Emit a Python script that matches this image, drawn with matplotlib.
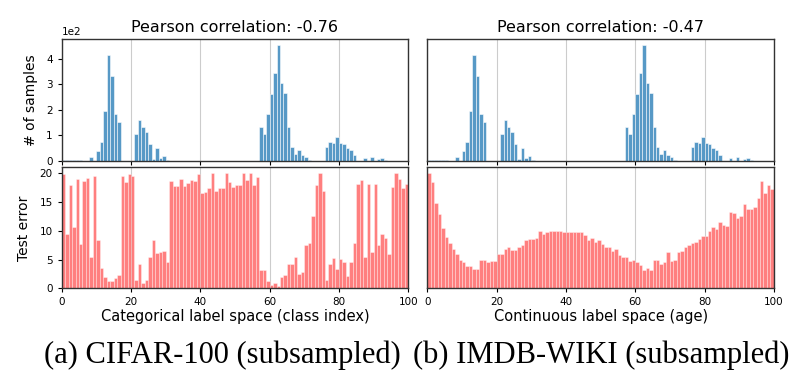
import matplotlib
matplotlib.use("Agg")
import matplotlib.pyplot as plt
import numpy as np

# label index 0..99, one bar per label
labels = np.arange(100)

# samples per label (same subsampled distribution in both columns)
sample_counts = [2, 2, 2, 3, 2, 4, 0, 0, 14, 0,
                 40, 75, 196, 414, 333, 184, 153, 0, 0, 0,
                 0, 107, 161, 135, 112, 68, 9, 51, 12, 20,
                 5, 0, 0, 0, 0, 0, 0, 0, 0, 0,
                 0, 0, 0, 0, 0, 0, 0, 0, 0, 0,
                 0, 0, 0, 0, 0, 0, 0, 135, 105, 184,
                 261, 344, 455, 307, 265, 132, 54, 27, 43, 25,
                 16, 4, 0, 0, 0, 0, 56, 75, 69, 95,
                 72, 68, 51, 43, 24, 0, 0, 10, 0, 16,
                 0, 8, 12, 4, 0, 0, 0, 0, 0, 0]

cifar_error = [19.9, 9.4, 17.9, 10.6, 19.0, 7.7, 18.6, 19.2, 5.4, 19.6,
               8.4, 3.6, 2.0, 1.2, 1.3, 1.8, 2.3, 19.5, 18.4, 19.8,
               19.5, 1.5, 4.3, 0.9, 1.4, 5.5, 8.4, 6.1, 6.3, 6.5,
               4.6, 18.7, 17.7, 17.7, 19.0, 17.7, 18.3, 18.9, 18.7, 19.9,
               16.5, 16.8, 17.5, 20.0, 16.9, 17.4, 17.4, 20.0, 18.5, 17.6,
               17.9, 18.0, 20.0, 18.8, 20.0, 18.0, 19.4, 3.1, 3.2, 1.3,
               0.6, 1.0, 0.4, 2.0, 2.3, 4.2, 4.2, 5.5, 2.5, 2.9,
               7.5, 7.8, 12.5, 17.9, 20.0, 16.9, 1.4, 4.2, 5.2, 3.4,
               5.1, 4.5, 2.1, 4.5, 7.8, 18.2, 18.8, 5.4, 18.2, 6.3,
               18.2, 7.6, 9.5, 8.8, 5.9, 17.6, 20.0, 19.0, 17.5, 18.2]

imdb_error = [20.0, 18.4, 14.8, 12.9, 10.4, 9.0, 7.9, 6.9, 6.0, 5.0,
              4.5, 3.9, 3.9, 3.3, 3.3, 5.0, 4.9, 4.6, 4.8, 4.8,
              6.0, 6.0, 6.8, 7.1, 6.6, 6.6, 7.2, 7.6, 8.4, 8.6,
              8.6, 8.7, 10.0, 9.4, 9.8, 9.9, 9.9, 10.0, 9.9, 9.8,
              9.8, 9.8, 9.8, 9.8, 9.8, 9.3, 8.4, 8.8, 8.1, 8.4,
              7.7, 7.1, 7.1, 6.4, 6.8, 5.8, 5.4, 5.5, 4.8, 4.9,
              4.6, 4.0, 3.2, 3.5, 3.1, 4.9, 4.9, 4.3, 4.5, 6.3,
              4.8, 5.0, 6.3, 6.5, 7.2, 7.6, 7.8, 8.0, 8.6, 9.1,
              9.1, 9.9, 10.7, 10.3, 11.6, 11.0, 10.9, 13.2, 13.1, 12.2,
              12.5, 14.7, 13.7, 13.7, 14.1, 15.7, 18.6, 16.6, 17.9, 17.2]

titles = ["Pearson correlation: -0.76", "Pearson correlation: -0.47"]
xlabels = ["Categorical label space (class index)", "Continuous label space (age)"]
captions = ["(a) CIFAR-100 (subsampled)", "(b) IMDB-WIKI (subsampled)"]
errors = [cifar_error, imdb_error]

fig = plt.figure(figsize=(8.04, 3.80), dpi=100)

lefts = [0.0767, 0.5315]
w = 0.431
cap_x = [0.277, 0.748]

for col in range(2):
    ax_top = fig.add_axes([lefts[col], 0.5763, w, 0.321])
    ax_bot = fig.add_axes([lefts[col], 0.2413, w, 0.318])

    ax_top.bar(labels, sample_counts, width=1, align='edge',
               color='tab:blue', alpha=0.75, edgecolor='white', linewidth=0.5)
    ax_bot.bar(labels, errors[col], width=1, align='edge',
               color='red', alpha=0.5, edgecolor='white', linewidth=0.5)

    for ax in (ax_top, ax_bot):
        ax.set_xlim(0, 100)
        ax.set_xticks([0, 20, 40, 60, 80, 100])
        ax.grid(axis='x', color='#cccccc', linewidth=0.8)
        ax.set_axisbelow(True)
        ax.tick_params(labelsize=7.5, length=3, width=0.8)
        for s in ax.spines.values():
            s.set_linewidth(1.0)
            s.set_color('#333333')

    ax_top.set_ylim(0, 477.75)
    ax_bot.set_ylim(0, 21)
    ax_top.set_xticklabels([])
    ax_top.set_title(titles[col], fontsize=11.5, pad=5)
    ax_bot.set_xlabel(xlabels[col], fontsize=10.5, labelpad=1)
    ax_bot.set_yticks([0, 5, 10, 15, 20])

    if col == 0:
        ax_top.set_yticks([0, 100, 200, 300, 400])
        ax_top.ticklabel_format(axis='y', style='sci', scilimits=(2, 2))
        ax_top.yaxis.get_offset_text().set_fontsize(7.5)
        ax_top.set_ylabel("# of samples", fontsize=10, labelpad=6)
        ax_bot.set_ylabel("Test error", fontsize=10, labelpad=6)
    else:
        ax_top.set_yticks([])
        ax_bot.set_yticks([])

    fig.text(cap_x[col], 0.065, captions[col], ha='center', va='center',
             family='Liberation Serif', fontsize=22)

fig.savefig("out.png", dpi=100)
